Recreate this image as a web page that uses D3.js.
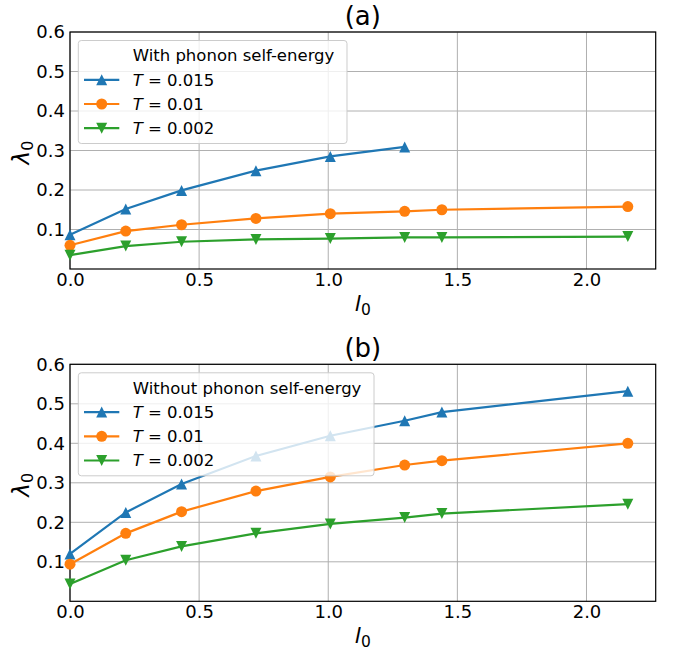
<!DOCTYPE html>
<html>
<head>
<meta charset="utf-8">
<script src="https://cdn.jsdelivr.net/npm/d3@7"></script>
<style>
  body { margin: 0; background: #fff; }
  svg text { font-family: "DejaVu Sans", sans-serif; }
</style>
</head>
<body>
<div id="chart"></div>
<script>
// data
var xVals = [0, 0.216, 0.432, 0.72, 1.008, 1.296, 1.44, 2.16];
var tempLabels = ["0.015", "0.01", "0.002"];

// (a) with phonon self-energy
var aT015 = [0.087, 0.152, 0.199, 0.249, 0.285, 0.309];
var aT01  = [0.060, 0.096, 0.112, 0.128, 0.140, 0.146, 0.150, 0.158];
var aT002 = [0.035, 0.058, 0.069, 0.075, 0.077, 0.080, 0.080, 0.082];

// (b) without phonon self-energy
var bT015 = [0.120, 0.225, 0.297, 0.368, 0.419, 0.457, 0.479, 0.532];
var bT01  = [0.094, 0.172, 0.227, 0.279, 0.315, 0.345, 0.356, 0.400];
var bT002 = [0.044, 0.104, 0.139, 0.172, 0.196, 0.212, 0.222, 0.246];

var xTicks = [0, 0.5, 1.0, 1.5, 2.0];
var yTicks = [0.1, 0.2, 0.3, 0.4, 0.5, 0.6];

var colors = ["#1f77b4", "#ff7f0e", "#2ca02c"];
var shapes = ["up", "circle", "down"];

var W = 673, H = 650;
var left = 70, right = 655.7;
var panelH = 237;

var svg = d3.select("#chart").append("svg")
    .attr("width", W)
    .attr("height", H);

var x = d3.scaleLinear().domain([0, 2.268]).range([left, right]);

function markerPath(shape, s) {
  var h = s / 2;
  if (shape == "up") return "M0," + (-h) + "L" + h + "," + h + "L" + (-h) + "," + h + "Z";
  if (shape == "down") return "M0," + h + "L" + h + "," + (-h) + "L" + (-h) + "," + (-h) + "Z";
  return d3.symbol().type(d3.symbolCircle).size(Math.PI * h * h)();
}

function drawPanel(top, title, legendTitle, series) {
  var y = d3.scaleLinear().domain([0, 0.6]).range([top + panelH, top]);
  var g = svg.append("g");

  // grid
  g.selectAll(".gx").data(xTicks).enter().append("line")
    .attr("x1", function(d) { return x(d); })
    .attr("x2", function(d) { return x(d); })
    .attr("y1", top).attr("y2", top + panelH)
    .attr("stroke", "#b0b0b0").attr("stroke-width", 1);
  g.selectAll(".gy").data(yTicks).enter().append("line")
    .attr("x1", left).attr("x2", right)
    .attr("y1", function(d) { return y(d); })
    .attr("y2", function(d) { return y(d); })
    .attr("stroke", "#b0b0b0").attr("stroke-width", 1);

  // axes
  var ax = g.append("g")
    .attr("transform", "translate(0," + (top + panelH) + ")")
    .call(d3.axisBottom(x).tickValues(xTicks).tickSize(0).tickPadding(4.3).tickFormat(d3.format(".1f")));
  var ay = g.append("g")
    .attr("transform", "translate(" + left + ",0)")
    .call(d3.axisLeft(y).tickValues(yTicks).tickSize(0).tickPadding(5).tickFormat(d3.format(".1f")));
  [ax, ay].forEach(function(a) {
    a.select(".domain").remove();
    a.selectAll("text").style("font-size", "18px").attr("fill", "#000");
  });

  // frame
  g.append("rect")
    .attr("x", left).attr("y", top)
    .attr("width", right - left).attr("height", panelH)
    .attr("fill", "none").attr("stroke", "#000").attr("stroke-width", 1.2);

  // lines + markers
  var line = d3.line()
    .x(function(d) { return x(d[0]); })
    .y(function(d) { return y(d[1]); });

  series.forEach(function(vals, i) {
    var pts = vals.map(function(v, k) { return [xVals[k], v]; });
    g.append("path")
      .datum(pts)
      .attr("d", line)
      .attr("fill", "none")
      .attr("stroke", colors[i])
      .attr("stroke-width", 2.2);
    g.selectAll(".m" + i).data(pts).enter().append("path")
      .attr("transform", function(d) { return "translate(" + x(d[0]) + "," + y(d[1]) + ")"; })
      .attr("d", markerPath(shapes[i], 11))
      .attr("fill", colors[i]);
  });

  // legend
  var lx = 78.3, ly = top + 8.5;
  var leg = g.append("g");
  var box = leg.append("rect")
    .attr("x", lx).attr("y", ly)
    .attr("height", 103)
    .attr("rx", 3)
    .attr("fill", "#fff").attr("fill-opacity", 0.8)
    .attr("stroke", "#cccccc").attr("stroke-width", 1);
  var tt = leg.append("text")
    .attr("x", 132.7).attr("y", ly + 15).attr("dy", "0.35em")
    .style("font-size", "16.5px")
    .text(legendTitle);
  tempLabels.forEach(function(t, i) {
    var ry = ly + 39.3 + i * 24.2;
    leg.append("line")
      .attr("x1", 84).attr("x2", 119.3)
      .attr("y1", ry).attr("y2", ry)
      .attr("stroke", colors[i]).attr("stroke-width", 2.2);
    leg.append("path")
      .attr("transform", "translate(101.7," + ry + ")")
      .attr("d", markerPath(shapes[i], 11))
      .attr("fill", colors[i]);
    var tx = leg.append("text")
      .attr("x", 132.7).attr("y", ry).attr("dy", "0.35em")
      .style("font-size", "16.5px");
    tx.append("tspan").style("font-style", "italic").text("T");
    tx.append("tspan").text(" = " + t);
  });
  var tw = tt.node().getComputedTextLength();
  box.attr("width", 132.7 + tw + 12.6 - lx);

  // title
  g.append("text")
    .attr("x", (left + right) / 2).attr("y", top - 7.5)
    .attr("text-anchor", "middle")
    .style("font-size", "26px")
    .text(title);

  // x label
  var xl = g.append("text")
    .attr("x", (left + right) / 2).attr("y", top + panelH + 42)
    .attr("text-anchor", "middle")
    .style("font-size", "22px");
  xl.append("tspan").style("font-style", "italic").text("l");
  xl.append("tspan").attr("dy", 4).style("font-size", "15.5px").text("0");

  // y label
  var yl = g.append("text")
    .attr("transform", "translate(29," + (top + panelH / 2 + 2) + ") rotate(-90)")
    .attr("text-anchor", "middle")
    .style("font-size", "23px");
  yl.append("tspan").style("font-style", "italic").text("λ");
  yl.append("tspan").attr("dy", 4).style("font-size", "16px").text("0");
}

drawPanel(32, "(a)", "With phonon self-energy", [aT015, aT01, aT002]);
drawPanel(364.3, "(b)", "Without phonon self-energy", [bT015, bT01, bT002]);
</script>
</body>
</html>
